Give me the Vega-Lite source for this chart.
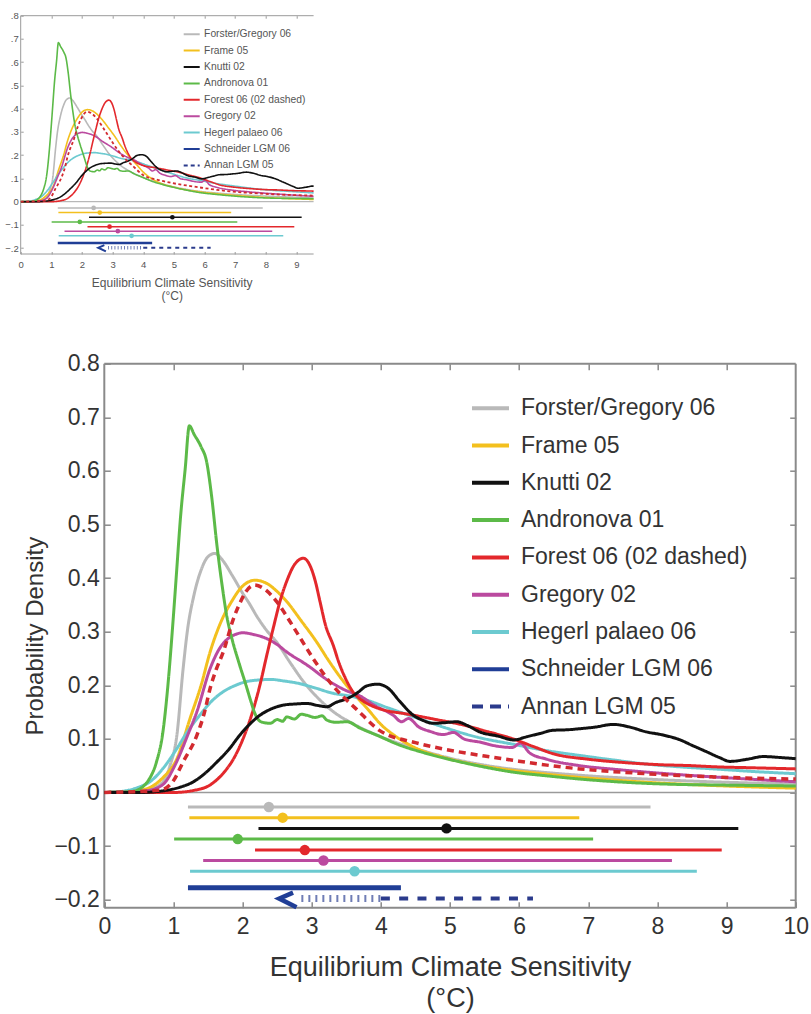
{
  "$schema": "https://vega.github.io/schema/vega-lite/v6.json",
  "autosize": {"type": "none"},
  "padding": {"left": 20.7, "top": 15.7, "right": 790.3, "bottom": 998.3},
  "background": "white",
  "config": {
    "font": "Liberation Sans",
    "view": {"stroke": null},
    "axis": {"grid": false, "labelFlush": false, "labelOverlap": false, "labelBound": false}
  },
  "resolve": {"scale": {"color": "independent", "strokeDash": "independent"}, "legend": {"color": "independent", "strokeDash": "independent"}},
  "datasets": {
    "curves": [
      {"s":"Forster/Gregory 06","x":0,"y":0},{"s":"Forster/Gregory 06","x":0.5,"y":0.002},{"s":"Forster/Gregory 06","x":0.7,"y":0.008},{"s":"Forster/Gregory 06","x":0.85,"y":0.02},{"s":"Forster/Gregory 06","x":0.95,"y":0.05},{"s":"Forster/Gregory 06","x":1.05,"y":0.107},{"s":"Forster/Gregory 06","x":1.14,"y":0.231},{"s":"Forster/Gregory 06","x":1.2,"y":0.3},{"s":"Forster/Gregory 06","x":1.3,"y":0.37},{"s":"Forster/Gregory 06","x":1.4,"y":0.415},{"s":"Forster/Gregory 06","x":1.5,"y":0.44},{"s":"Forster/Gregory 06","x":1.6,"y":0.446},{"s":"Forster/Gregory 06","x":1.7,"y":0.435},{"s":"Forster/Gregory 06","x":1.85,"y":0.405},{"s":"Forster/Gregory 06","x":2.0,"y":0.372},{"s":"Forster/Gregory 06","x":2.1,"y":0.352},{"s":"Forster/Gregory 06","x":2.2,"y":0.33},{"s":"Forster/Gregory 06","x":2.35,"y":0.302},{"s":"Forster/Gregory 06","x":2.49,"y":0.281},{"s":"Forster/Gregory 06","x":2.7,"y":0.24},{"s":"Forster/Gregory 06","x":2.88,"y":0.207},{"s":"Forster/Gregory 06","x":3.1,"y":0.175},{"s":"Forster/Gregory 06","x":3.31,"y":0.151},{"s":"Forster/Gregory 06","x":3.6,"y":0.128},{"s":"Forster/Gregory 06","x":4.0,"y":0.104},{"s":"Forster/Gregory 06","x":4.5,"y":0.082},{"s":"Forster/Gregory 06","x":5.0,"y":0.064},{"s":"Forster/Gregory 06","x":5.5,"y":0.051},{"s":"Forster/Gregory 06","x":6.0,"y":0.042},{"s":"Forster/Gregory 06","x":6.5,"y":0.036},{"s":"Forster/Gregory 06","x":7.0,"y":0.031},{"s":"Forster/Gregory 06","x":8.0,"y":0.024},{"s":"Forster/Gregory 06","x":9.0,"y":0.019},{"s":"Forster/Gregory 06","x":10,"y":0.016},
      {"s":"Frame 05","x":0,"y":0},{"s":"Frame 05","x":0.5,"y":0.004},{"s":"Frame 05","x":0.7,"y":0.012},{"s":"Frame 05","x":0.85,"y":0.028},{"s":"Frame 05","x":1.05,"y":0.063},{"s":"Frame 05","x":1.24,"y":0.138},{"s":"Frame 05","x":1.4,"y":0.2},{"s":"Frame 05","x":1.53,"y":0.262},{"s":"Frame 05","x":1.7,"y":0.322},{"s":"Frame 05","x":1.84,"y":0.356},{"s":"Frame 05","x":2.0,"y":0.385},{"s":"Frame 05","x":2.18,"y":0.396},{"s":"Frame 05","x":2.35,"y":0.39},{"s":"Frame 05","x":2.5,"y":0.375},{"s":"Frame 05","x":2.64,"y":0.356},{"s":"Frame 05","x":2.85,"y":0.32},{"s":"Frame 05","x":3.07,"y":0.281},{"s":"Frame 05","x":3.25,"y":0.245},{"s":"Frame 05","x":3.46,"y":0.207},{"s":"Frame 05","x":3.65,"y":0.178},{"s":"Frame 05","x":3.8,"y":0.157},{"s":"Frame 05","x":4.0,"y":0.127},{"s":"Frame 05","x":4.2,"y":0.106},{"s":"Frame 05","x":4.47,"y":0.085},{"s":"Frame 05","x":4.95,"y":0.064},{"s":"Frame 05","x":5.4,"y":0.051},{"s":"Frame 05","x":5.91,"y":0.041},{"s":"Frame 05","x":6.4,"y":0.034},{"s":"Frame 05","x":6.88,"y":0.028},{"s":"Frame 05","x":7.4,"y":0.023},{"s":"Frame 05","x":7.84,"y":0.019},{"s":"Frame 05","x":8.81,"y":0.013},{"s":"Frame 05","x":10,"y":0.008},
      {"s":"Hegerl palaeo 06","x":0,"y":0},{"s":"Hegerl palaeo 06","x":0.3,"y":0.003},{"s":"Hegerl palaeo 06","x":0.5,"y":0.01},{"s":"Hegerl palaeo 06","x":0.66,"y":0.02},{"s":"Hegerl palaeo 06","x":0.85,"y":0.045},{"s":"Hegerl palaeo 06","x":1.05,"y":0.082},{"s":"Hegerl palaeo 06","x":1.2,"y":0.113},{"s":"Hegerl palaeo 06","x":1.38,"y":0.144},{"s":"Hegerl palaeo 06","x":1.55,"y":0.17},{"s":"Hegerl palaeo 06","x":1.72,"y":0.188},{"s":"Hegerl palaeo 06","x":1.9,"y":0.2},{"s":"Hegerl palaeo 06","x":2.06,"y":0.207},{"s":"Hegerl palaeo 06","x":2.25,"y":0.21},{"s":"Hegerl palaeo 06","x":2.4,"y":0.211},{"s":"Hegerl palaeo 06","x":2.6,"y":0.208},{"s":"Hegerl palaeo 06","x":2.83,"y":0.203},{"s":"Hegerl palaeo 06","x":3.05,"y":0.195},{"s":"Hegerl palaeo 06","x":3.31,"y":0.185},{"s":"Hegerl palaeo 06","x":3.55,"y":0.18},{"s":"Hegerl palaeo 06","x":3.8,"y":0.172},{"s":"Hegerl palaeo 06","x":4.1,"y":0.158},{"s":"Hegerl palaeo 06","x":4.5,"y":0.14},{"s":"Hegerl palaeo 06","x":4.95,"y":0.12},{"s":"Hegerl palaeo 06","x":5.4,"y":0.103},{"s":"Hegerl palaeo 06","x":5.91,"y":0.09},{"s":"Hegerl palaeo 06","x":6.4,"y":0.078},{"s":"Hegerl palaeo 06","x":6.88,"y":0.069},{"s":"Hegerl palaeo 06","x":7.4,"y":0.06},{"s":"Hegerl palaeo 06","x":7.84,"y":0.053},{"s":"Hegerl palaeo 06","x":8.3,"y":0.048},{"s":"Hegerl palaeo 06","x":8.81,"y":0.044},{"s":"Hegerl palaeo 06","x":9.4,"y":0.039},{"s":"Hegerl palaeo 06","x":10,"y":0.035},
      {"s":"Gregory 02","x":0,"y":0},{"s":"Gregory 02","x":0.6,"y":0.003},{"s":"Gregory 02","x":0.85,"y":0.015},{"s":"Gregory 02","x":1.0,"y":0.045},{"s":"Gregory 02","x":1.09,"y":0.07},{"s":"Gregory 02","x":1.2,"y":0.105},{"s":"Gregory 02","x":1.34,"y":0.151},{"s":"Gregory 02","x":1.53,"y":0.231},{"s":"Gregory 02","x":1.65,"y":0.265},{"s":"Gregory 02","x":1.77,"y":0.285},{"s":"Gregory 02","x":1.9,"y":0.295},{"s":"Gregory 02","x":2.0,"y":0.298},{"s":"Gregory 02","x":2.15,"y":0.295},{"s":"Gregory 02","x":2.35,"y":0.287},{"s":"Gregory 02","x":2.5,"y":0.276},{"s":"Gregory 02","x":2.64,"y":0.262},{"s":"Gregory 02","x":2.93,"y":0.238},{"s":"Gregory 02","x":3.26,"y":0.207},{"s":"Gregory 02","x":3.5,"y":0.19},{"s":"Gregory 02","x":3.7,"y":0.18},{"s":"Gregory 02","x":3.9,"y":0.163},{"s":"Gregory 02","x":4.18,"y":0.144},{"s":"Gregory 02","x":4.3,"y":0.132},{"s":"Gregory 02","x":4.4,"y":0.138},{"s":"Gregory 02","x":4.55,"y":0.122},{"s":"Gregory 02","x":4.71,"y":0.114},{"s":"Gregory 02","x":4.9,"y":0.108},{"s":"Gregory 02","x":5.05,"y":0.112},{"s":"Gregory 02","x":5.2,"y":0.1},{"s":"Gregory 02","x":5.43,"y":0.094},{"s":"Gregory 02","x":5.7,"y":0.086},{"s":"Gregory 02","x":5.9,"y":0.084},{"s":"Gregory 02","x":6.02,"y":0.092},{"s":"Gregory 02","x":6.15,"y":0.074},{"s":"Gregory 02","x":6.4,"y":0.062},{"s":"Gregory 02","x":6.88,"y":0.05},{"s":"Gregory 02","x":7.4,"y":0.043},{"s":"Gregory 02","x":7.84,"y":0.038},{"s":"Gregory 02","x":8.81,"y":0.029},{"s":"Gregory 02","x":10,"y":0.02},
      {"s":"Forest 06 (02 dashed)","x":0,"y":0},{"s":"Forest 06 (02 dashed)","x":1.0,"y":0.0},{"s":"Forest 06 (02 dashed)","x":1.3,"y":0.004},{"s":"Forest 06 (02 dashed)","x":1.53,"y":0.014},{"s":"Forest 06 (02 dashed)","x":1.7,"y":0.033},{"s":"Forest 06 (02 dashed)","x":1.87,"y":0.063},{"s":"Forest 06 (02 dashed)","x":2.0,"y":0.098},{"s":"Forest 06 (02 dashed)","x":2.16,"y":0.157},{"s":"Forest 06 (02 dashed)","x":2.25,"y":0.2},{"s":"Forest 06 (02 dashed)","x":2.35,"y":0.256},{"s":"Forest 06 (02 dashed)","x":2.45,"y":0.31},{"s":"Forest 06 (02 dashed)","x":2.54,"y":0.356},{"s":"Forest 06 (02 dashed)","x":2.65,"y":0.398},{"s":"Forest 06 (02 dashed)","x":2.75,"y":0.425},{"s":"Forest 06 (02 dashed)","x":2.88,"y":0.437},{"s":"Forest 06 (02 dashed)","x":2.98,"y":0.422},{"s":"Forest 06 (02 dashed)","x":3.05,"y":0.395},{"s":"Forest 06 (02 dashed)","x":3.12,"y":0.356},{"s":"Forest 06 (02 dashed)","x":3.2,"y":0.312},{"s":"Forest 06 (02 dashed)","x":3.31,"y":0.275},{"s":"Forest 06 (02 dashed)","x":3.4,"y":0.24},{"s":"Forest 06 (02 dashed)","x":3.51,"y":0.207},{"s":"Forest 06 (02 dashed)","x":3.6,"y":0.187},{"s":"Forest 06 (02 dashed)","x":3.75,"y":0.17},{"s":"Forest 06 (02 dashed)","x":3.9,"y":0.16},{"s":"Forest 06 (02 dashed)","x":4.1,"y":0.152},{"s":"Forest 06 (02 dashed)","x":4.3,"y":0.148},{"s":"Forest 06 (02 dashed)","x":4.52,"y":0.143},{"s":"Forest 06 (02 dashed)","x":4.8,"y":0.136},{"s":"Forest 06 (02 dashed)","x":5.19,"y":0.126},{"s":"Forest 06 (02 dashed)","x":5.5,"y":0.115},{"s":"Forest 06 (02 dashed)","x":5.91,"y":0.1},{"s":"Forest 06 (02 dashed)","x":6.2,"y":0.086},{"s":"Forest 06 (02 dashed)","x":6.5,"y":0.072},{"s":"Forest 06 (02 dashed)","x":7.0,"y":0.062},{"s":"Forest 06 (02 dashed)","x":7.5,"y":0.056},{"s":"Forest 06 (02 dashed)","x":8.0,"y":0.052},{"s":"Forest 06 (02 dashed)","x":8.5,"y":0.05},{"s":"Forest 06 (02 dashed)","x":8.81,"y":0.048},{"s":"Forest 06 (02 dashed)","x":9.4,"y":0.046},{"s":"Forest 06 (02 dashed)","x":10,"y":0.044},
      {"s":"Forest 02","x":0,"y":0},{"s":"Forest 02","x":0.8,"y":0.004},{"s":"Forest 02","x":1.0,"y":0.022},{"s":"Forest 02","x":1.14,"y":0.057},{"s":"Forest 02","x":1.34,"y":0.107},{"s":"Forest 02","x":1.45,"y":0.15},{"s":"Forest 02","x":1.53,"y":0.194},{"s":"Forest 02","x":1.62,"y":0.23},{"s":"Forest 02","x":1.72,"y":0.262},{"s":"Forest 02","x":1.87,"y":0.325},{"s":"Forest 02","x":1.95,"y":0.35},{"s":"Forest 02","x":2.05,"y":0.375},{"s":"Forest 02","x":2.17,"y":0.387},{"s":"Forest 02","x":2.3,"y":0.381},{"s":"Forest 02","x":2.5,"y":0.355},{"s":"Forest 02","x":2.69,"y":0.318},{"s":"Forest 02","x":2.85,"y":0.285},{"s":"Forest 02","x":3.02,"y":0.25},{"s":"Forest 02","x":3.3,"y":0.2},{"s":"Forest 02","x":3.5,"y":0.173},{"s":"Forest 02","x":3.65,"y":0.155},{"s":"Forest 02","x":3.99,"y":0.115},{"s":"Forest 02","x":4.5,"y":0.093},{"s":"Forest 02","x":4.95,"y":0.08},{"s":"Forest 02","x":5.5,"y":0.068},{"s":"Forest 02","x":5.91,"y":0.06},{"s":"Forest 02","x":6.4,"y":0.051},{"s":"Forest 02","x":6.88,"y":0.044},{"s":"Forest 02","x":7.84,"y":0.035},{"s":"Forest 02","x":8.81,"y":0.029},{"s":"Forest 02","x":10,"y":0.025},
      {"s":"Andronova 01","x":0,"y":0},{"s":"Andronova 01","x":0.4,"y":0.002},{"s":"Andronova 01","x":0.55,"y":0.01},{"s":"Andronova 01","x":0.65,"y":0.025},{"s":"Andronova 01","x":0.75,"y":0.055},{"s":"Andronova 01","x":0.85,"y":0.115},{"s":"Andronova 01","x":0.92,"y":0.2},{"s":"Andronova 01","x":1.0,"y":0.33},{"s":"Andronova 01","x":1.05,"y":0.42},{"s":"Andronova 01","x":1.1,"y":0.51},{"s":"Andronova 01","x":1.17,"y":0.604},{"s":"Andronova 01","x":1.23,"y":0.684},{"s":"Andronova 01","x":1.3,"y":0.668},{"s":"Andronova 01","x":1.4,"y":0.645},{"s":"Andronova 01","x":1.48,"y":0.617},{"s":"Andronova 01","x":1.55,"y":0.555},{"s":"Andronova 01","x":1.63,"y":0.46},{"s":"Andronova 01","x":1.7,"y":0.39},{"s":"Andronova 01","x":1.77,"y":0.33},{"s":"Andronova 01","x":1.85,"y":0.285},{"s":"Andronova 01","x":1.94,"y":0.245},{"s":"Andronova 01","x":2.05,"y":0.2},{"s":"Andronova 01","x":2.12,"y":0.17},{"s":"Andronova 01","x":2.18,"y":0.147},{"s":"Andronova 01","x":2.25,"y":0.133},{"s":"Andronova 01","x":2.32,"y":0.13},{"s":"Andronova 01","x":2.4,"y":0.129},{"s":"Andronova 01","x":2.5,"y":0.136},{"s":"Andronova 01","x":2.58,"y":0.133},{"s":"Andronova 01","x":2.64,"y":0.141},{"s":"Andronova 01","x":2.75,"y":0.137},{"s":"Andronova 01","x":2.85,"y":0.146},{"s":"Andronova 01","x":2.93,"y":0.144},{"s":"Andronova 01","x":3.05,"y":0.14},{"s":"Andronova 01","x":3.15,"y":0.143},{"s":"Andronova 01","x":3.22,"y":0.135},{"s":"Andronova 01","x":3.35,"y":0.131},{"s":"Andronova 01","x":3.51,"y":0.132},{"s":"Andronova 01","x":3.7,"y":0.12},{"s":"Andronova 01","x":3.94,"y":0.107},{"s":"Andronova 01","x":4.28,"y":0.088},{"s":"Andronova 01","x":4.6,"y":0.075},{"s":"Andronova 01","x":4.95,"y":0.063},{"s":"Andronova 01","x":5.4,"y":0.05},{"s":"Andronova 01","x":5.91,"y":0.038},{"s":"Andronova 01","x":6.4,"y":0.031},{"s":"Andronova 01","x":6.88,"y":0.025},{"s":"Andronova 01","x":7.4,"y":0.02},{"s":"Andronova 01","x":7.84,"y":0.017},{"s":"Andronova 01","x":8.3,"y":0.015},{"s":"Andronova 01","x":8.81,"y":0.014},{"s":"Andronova 01","x":9.4,"y":0.013},{"s":"Andronova 01","x":10,"y":0.012},
      {"s":"Knutti 02","x":0,"y":0},{"s":"Knutti 02","x":0.5,"y":0.0},{"s":"Knutti 02","x":0.9,"y":0.004},{"s":"Knutti 02","x":1.1,"y":0.01},{"s":"Knutti 02","x":1.29,"y":0.02},{"s":"Knutti 02","x":1.45,"y":0.035},{"s":"Knutti 02","x":1.63,"y":0.057},{"s":"Knutti 02","x":1.8,"y":0.08},{"s":"Knutti 02","x":1.96,"y":0.107},{"s":"Knutti 02","x":2.1,"y":0.127},{"s":"Knutti 02","x":2.25,"y":0.144},{"s":"Knutti 02","x":2.4,"y":0.155},{"s":"Knutti 02","x":2.59,"y":0.163},{"s":"Knutti 02","x":2.75,"y":0.165},{"s":"Knutti 02","x":2.93,"y":0.166},{"s":"Knutti 02","x":3.1,"y":0.162},{"s":"Knutti 02","x":3.22,"y":0.16},{"s":"Knutti 02","x":3.35,"y":0.168},{"s":"Knutti 02","x":3.51,"y":0.175},{"s":"Knutti 02","x":3.65,"y":0.185},{"s":"Knutti 02","x":3.8,"y":0.199},{"s":"Knutti 02","x":3.95,"y":0.202},{"s":"Knutti 02","x":4.1,"y":0.195},{"s":"Knutti 02","x":4.28,"y":0.169},{"s":"Knutti 02","x":4.47,"y":0.144},{"s":"Knutti 02","x":4.6,"y":0.135},{"s":"Knutti 02","x":4.76,"y":0.129},{"s":"Knutti 02","x":4.9,"y":0.13},{"s":"Knutti 02","x":5.1,"y":0.132},{"s":"Knutti 02","x":5.25,"y":0.125},{"s":"Knutti 02","x":5.43,"y":0.113},{"s":"Knutti 02","x":5.7,"y":0.105},{"s":"Knutti 02","x":5.92,"y":0.098},{"s":"Knutti 02","x":6.11,"y":0.104},{"s":"Knutti 02","x":6.3,"y":0.11},{"s":"Knutti 02","x":6.49,"y":0.116},{"s":"Knutti 02","x":6.7,"y":0.117},{"s":"Knutti 02","x":6.88,"y":0.119},{"s":"Knutti 02","x":7.1,"y":0.122},{"s":"Knutti 02","x":7.36,"y":0.127},{"s":"Knutti 02","x":7.6,"y":0.122},{"s":"Knutti 02","x":7.84,"y":0.113},{"s":"Knutti 02","x":8.05,"y":0.108},{"s":"Knutti 02","x":8.33,"y":0.098},{"s":"Knutti 02","x":8.5,"y":0.088},{"s":"Knutti 02","x":8.71,"y":0.076},{"s":"Knutti 02","x":8.9,"y":0.065},{"s":"Knutti 02","x":9.05,"y":0.058},{"s":"Knutti 02","x":9.3,"y":0.062},{"s":"Knutti 02","x":9.53,"y":0.067},{"s":"Knutti 02","x":9.8,"y":0.065},{"s":"Knutti 02","x":10,"y":0.063}
    ],
    "bars": [
      {"s":"Forster/Gregory 06","lo":1.21,"hi":7.9,"mid":2.38,"yv":-0.027},
      {"s":"Frame 05","lo":1.23,"hi":6.87,"mid":2.58,"yv":-0.047},
      {"s":"Knutti 02","lo":2.23,"hi":9.17,"mid":4.95,"yv":-0.067},
      {"s":"Andronova 01","lo":1.01,"hi":7.07,"mid":1.93,"yv":-0.087},
      {"s":"Forest 06 (02 dashed)","lo":2.18,"hi":8.93,"mid":2.9,"yv":-0.1075},
      {"s":"Gregory 02","lo":1.43,"hi":8.21,"mid":3.17,"yv":-0.127},
      {"s":"Hegerl palaeo 06","lo":1.24,"hi":8.57,"mid":3.62,"yv":-0.147},
      {"s":"Schneider LGM 06","lo":1.21,"hi":4.29,"mid":null,"yv":-0.178}
    ],
    "annan": [
      {"part":"chev","i":0,"x":2.73,"y":-0.187},
      {"part":"chev","i":1,"x":2.53,"y":-0.198},
      {"part":"chev","i":2,"x":2.78,"y":-0.214},
      {"part":"dot","lo":2.85,"hi":4.0,"yv":-0.198},
      {"part":"dash","lo":4.0,"hi":6.2,"yv":-0.198}
    ],
    "frameB": [
      {"x1":0,"x2":0,"y1":-0.215,"y2":0.8},
      {"x1":10,"x2":10,"y1":-0.215,"y2":0.8},
      {"x1":0,"x2":10,"y1":0.8,"y2":0.8},
      {"x1":0,"x2":10,"y1":-0.215,"y2":-0.215}
    ],
    "zeroB": [{"x1":0,"x2":10,"y1":0,"y2":0}],
    "frameS": [
      {"x1":0,"x2":0,"y1":-0.225,"y2":0.8},
      {"x1":0,"x2":9.56,"y1":0.8,"y2":0.8},
      {"x1":0,"x2":9.56,"y1":-0.225,"y2":-0.225}
    ],
    "zeroS": [{"x1":0,"x2":9.56,"y1":0,"y2":0}]
  },
  "spacing": 51,
  "vconcat": [
    {
      "width": 292.9,
      "height": 238.3,
      "resolve": {"axis": {"x": "independent", "y": "independent"}},
      "layer": [
        {
          "data": {"name": "frameS"},
          "mark": {"type": "rule", "color": "#9a9a9a", "strokeWidth": 1},
          "encoding": {
            "x": {"field": "x1", "type": "quantitative", "scale": {"domain": [0, 9.56], "nice": false, "zero": false},
              "axis": {"orient": "bottom", "values": [0,1,2,3,4,5,6,7,8,9], "format": "d", "domain": false, "tickSize": -2.5, "tickColor": "#9a9a9a", "labelFontSize": 9.5, "labelColor": "#555555", "labelPadding": 7.7,
                "title": ["Equilibrium Climate Sensitivity", "(°C)"], "titleFontSize": 12, "titleFontWeight": "normal", "titleColor": "#555555", "titleX": 151, "titleY": 32, "titleAlign": "center", "titleBaseline": "alphabetic", "titleLineHeight": 13.5}},
            "x2": {"field": "x2"},
            "y": {"field": "y1", "type": "quantitative", "scale": {"domain": [-0.225, 0.8], "nice": false, "zero": false},
              "axis": {"orient": "left", "values": [-0.2,-0.1,0,0.1,0.2,0.3,0.4,0.5,0.6,0.7,0.8], "domain": false, "tickSize": -2.5, "tickColor": "#9a9a9a", "labelFontSize": 9.5, "labelColor": "#555555", "labelPadding": 4.9,
                "labelExpr": "datum.value == 0 ? '0' : replace(format(datum.value, '.1f'), '0.', '.')", "title": null}},
            "y2": {"field": "y2"}
          }
        },
        {
          "data": {"name": "zeroS"},
          "mark": {"type": "rule", "color": "#a8a8a8", "strokeWidth": 1},
          "encoding": {
            "x": {"field": "x1", "type": "quantitative", "axis": {"orient": "top", "values": [1,2,3,4,5,6,7,8,9], "labels": false, "domain": false, "tickSize": -2.5, "tickColor": "#9a9a9a", "title": null}},
            "x2": {"field": "x2"},
            "y": {"field": "y1", "type": "quantitative", "axis": null},
            "y2": {"field": "y2"}
          }
        },
        {
          "data": {"name": "curves"},
          "transform": [{"filter": "datum.s != 'Forest 02'"}],
          "mark": {"type": "line", "strokeWidth": 1.6, "interpolate": "monotone", "clip": true},
          "encoding": {
            "x": {"field": "x", "type": "quantitative", "axis": null},
            "y": {"field": "y", "type": "quantitative", "axis": null},
            "color": {"field": "s", "type": "nominal",
              "scale": {"domain": ["Forster/Gregory 06","Frame 05","Knutti 02","Andronova 01","Forest 06 (02 dashed)","Gregory 02","Hegerl palaeo 06","Schneider LGM 06","Annan LGM 05"],
                "range": ["#b9b9b9","#f3c01e","#111111","#5cba48","#e3282c","#bb4a9f","#6ccad0","#203e96","#2b3b8c"]},
              "legend": {"title": null, "orient": "none", "legendX": 162, "legendY": 9.5, "symbolType": "stroke", "symbolSize": 256, "symbolStrokeWidth": 2, "labelFontSize": 10.3, "labelColor": "#555555", "labelOffset": 3.4, "rowPadding": 1.4, "padding": 0, "labelLimit": 400}},
            "strokeDash": {"field": "s", "type": "nominal",
              "scale": {"domain": ["Forster/Gregory 06","Frame 05","Knutti 02","Andronova 01","Forest 06 (02 dashed)","Gregory 02","Hegerl palaeo 06","Schneider LGM 06","Annan LGM 05"],
                "range": [[1,0],[1,0],[1,0],[1,0],[1,0],[1,0],[1,0],[1,0],[4,3]]},
              "legend": {"title": null, "orient": "none", "legendX": 162, "legendY": 9.5, "symbolType": "stroke", "symbolSize": 256, "symbolStrokeWidth": 2, "labelFontSize": 10.3, "labelColor": "#555555", "labelOffset": 3.4, "rowPadding": 1.4, "padding": 0, "labelLimit": 400}}
          }
        },
        {
          "data": {"name": "curves"},
          "transform": [{"filter": "datum.s == 'Forest 02'"}],
          "mark": {"type": "line", "strokeWidth": 1.8, "interpolate": "monotone", "clip": true, "color": "#d22a2f", "strokeDash": [3, 2.5]},
          "encoding": {
            "x": {"field": "x", "type": "quantitative", "axis": null},
            "y": {"field": "y", "type": "quantitative", "axis": null}
          }
        },
        {
          "data": {"name": "bars"},
          "transform": [{"filter": "datum.s != 'Schneider LGM 06'"}],
          "mark": {"type": "rule", "strokeWidth": 1.5},
          "encoding": {
            "x": {"field": "lo", "type": "quantitative", "axis": null},
            "x2": {"field": "hi"},
            "y": {"field": "yv", "type": "quantitative", "axis": null},
            "color": {"field": "s", "type": "nominal"}
          }
        },
        {
          "data": {"name": "bars"},
          "transform": [{"filter": "datum.s == 'Schneider LGM 06'"}],
          "mark": {"type": "rule", "strokeWidth": 2.5},
          "encoding": {
            "x": {"field": "lo", "type": "quantitative", "axis": null},
            "x2": {"field": "hi"},
            "y": {"field": "yv", "type": "quantitative", "axis": null},
            "color": {"field": "s", "type": "nominal"}
          }
        },
        {
          "data": {"name": "bars"},
          "transform": [{"filter": "datum.mid != null"}],
          "mark": {"type": "circle", "size": 22, "opacity": 1},
          "encoding": {
            "x": {"field": "mid", "type": "quantitative", "axis": null},
            "y": {"field": "yv", "type": "quantitative", "axis": null},
            "color": {"field": "s", "type": "nominal"}
          }
        },
        {
          "data": {"name": "annan"},
          "transform": [{"filter": "datum.part == 'chev'"}],
          "mark": {"type": "line", "strokeWidth": 2, "color": "#203e96"},
          "encoding": {
            "x": {"field": "x", "type": "quantitative", "axis": null},
            "y": {"field": "y", "type": "quantitative", "axis": null},
            "order": {"field": "i", "type": "quantitative"}
          }
        },
        {
          "data": {"name": "annan"},
          "transform": [{"filter": "datum.part == 'dot'"}],
          "mark": {"type": "rule", "strokeWidth": 3.5, "color": "#6f7db5", "strokeDash": [1, 2.2]},
          "encoding": {
            "x": {"field": "lo", "type": "quantitative", "axis": null},
            "x2": {"field": "hi"},
            "y": {"field": "yv", "type": "quantitative", "axis": null}
          }
        },
        {
          "data": {"name": "annan"},
          "transform": [{"filter": "datum.part == 'dash'"}],
          "mark": {"type": "rule", "strokeWidth": 2, "color": "#2b3b8c", "strokeDash": [4, 4]},
          "encoding": {
            "x": {"field": "lo", "type": "quantitative", "axis": null},
            "x2": {"field": "hi"},
            "y": {"field": "yv", "type": "quantitative", "axis": null}
          }
        }
      ]
    },
    {
      "width": 775,
      "height": 544,
      "resolve": {"axis": {"x": "independent", "y": "independent"}},
      "layer": [
        {
          "data": {"name": "frameB"},
          "mark": {"type": "rule", "color": "#8a8a8a", "strokeWidth": 2},
          "encoding": {
            "x": {"field": "x1", "type": "quantitative", "scale": {"domain": [-1.2092, 10], "nice": false, "zero": false},
              "axis": {"orient": "bottom", "values": [0,1,2,3,4,5,6,7,8,9,10], "format": "d", "domain": false, "tickSize": -6, "tickWidth": 1.5, "tickColor": "#8a8a8a", "labelFontSize": 23, "labelColor": "#333333", "labelPadding": 13.6,
                "title": ["Equilibrium Climate Sensitivity", "(°C)"], "titleFontSize": 27, "titleFontWeight": "normal", "titleColor": "#333333", "titleX": 429.3, "titleY": 68, "titleAlign": "center", "titleBaseline": "alphabetic", "titleLineHeight": 31}},
            "x2": {"field": "x2"},
            "y": {"field": "y1", "type": "quantitative", "scale": {"domain": [-0.215, 0.8], "nice": false, "zero": false},
              "axis": {"orient": "left", "offset": -83.6, "values": [-0.2,-0.1,0,0.1,0.2,0.3,0.4,0.5,0.6,0.7,0.8], "domain": false, "tickSize": -6, "tickWidth": 1.5, "tickColor": "#8a8a8a", "labelFontSize": 23, "labelColor": "#333333", "labelPadding": 11,
                "labelExpr": "datum.value == 0 ? '0' : format(datum.value, '.1f')",
                "title": "Probability Density", "titleFontSize": 24, "titleFontWeight": "normal", "titleColor": "#333333", "titlePadding": 6}},
            "y2": {"field": "y2"}
          }
        },
        {
          "data": {"name": "zeroB"},
          "mark": {"type": "rule", "color": "#9a9a9a", "strokeWidth": 1.5},
          "encoding": {
            "x": {"field": "x1", "type": "quantitative", "axis": {"orient": "top", "values": [1,2,3,4,5,6,7,8,9], "labels": false, "domain": false, "tickSize": -6, "tickWidth": 1.5, "tickColor": "#8a8a8a", "title": null}},
            "x2": {"field": "x2"},
            "y": {"field": "y1", "type": "quantitative", "axis": {"orient": "right", "values": [-0.2,-0.1,0,0.1,0.2,0.3,0.4,0.5,0.6,0.7], "labels": false, "domain": false, "tickSize": -6, "tickWidth": 1.5, "tickColor": "#8a8a8a", "title": null}},
            "y2": {"field": "y2"}
          }
        },
        {
          "data": {"name": "curves"},
          "transform": [{"filter": "datum.s != 'Forest 02'"}],
          "mark": {"type": "line", "strokeWidth": 3, "interpolate": "monotone"},
          "encoding": {
            "x": {"field": "x", "type": "quantitative", "axis": null},
            "y": {"field": "y", "type": "quantitative", "axis": null},
            "color": {"field": "s", "type": "nominal",
              "scale": {"domain": ["Forster/Gregory 06","Frame 05","Knutti 02","Andronova 01","Forest 06 (02 dashed)","Gregory 02","Hegerl palaeo 06","Schneider LGM 06","Annan LGM 05"],
                "range": ["#b9b9b9","#f3c01e","#111111","#5cba48","#e3282c","#bb4a9f","#6ccad0","#203e96","#2b3b8c"]},
              "legend": {"title": null, "orient": "none", "legendX": 449.3, "legendY": 24, "symbolType": "stroke", "symbolSize": 1369, "symbolStrokeWidth": 4, "labelFontSize": 23, "labelColor": "#333333", "labelOffset": 10, "rowPadding": 4.3, "padding": 0, "labelLimit": 400}},
            "strokeDash": {"field": "s", "type": "nominal",
              "scale": {"domain": ["Forster/Gregory 06","Frame 05","Knutti 02","Andronova 01","Forest 06 (02 dashed)","Gregory 02","Hegerl palaeo 06","Schneider LGM 06","Annan LGM 05"],
                "range": [[1,0],[1,0],[1,0],[1,0],[1,0],[1,0],[1,0],[1,0],[11,7]]},
              "legend": {"title": null, "orient": "none", "legendX": 449.3, "legendY": 24, "symbolType": "stroke", "symbolSize": 1369, "symbolStrokeWidth": 4, "labelFontSize": 23, "labelColor": "#333333", "labelOffset": 10, "rowPadding": 4.3, "padding": 0, "labelLimit": 400}}
          }
        },
        {
          "data": {"name": "curves"},
          "transform": [{"filter": "datum.s == 'Forest 02'"}],
          "mark": {"type": "line", "strokeWidth": 3.5, "interpolate": "monotone", "color": "#d22a2f", "strokeDash": [7, 5]},
          "encoding": {
            "x": {"field": "x", "type": "quantitative", "axis": null},
            "y": {"field": "y", "type": "quantitative", "axis": null}
          }
        },
        {
          "data": {"name": "bars"},
          "transform": [{"filter": "datum.s != 'Schneider LGM 06'"}],
          "mark": {"type": "rule", "strokeWidth": 3},
          "encoding": {
            "x": {"field": "lo", "type": "quantitative", "axis": null},
            "x2": {"field": "hi"},
            "y": {"field": "yv", "type": "quantitative", "axis": null},
            "color": {"field": "s", "type": "nominal"}
          }
        },
        {
          "data": {"name": "bars"},
          "transform": [{"filter": "datum.s == 'Schneider LGM 06'"}],
          "mark": {"type": "rule", "strokeWidth": 5},
          "encoding": {
            "x": {"field": "lo", "type": "quantitative", "axis": null},
            "x2": {"field": "hi"},
            "y": {"field": "yv", "type": "quantitative", "axis": null},
            "color": {"field": "s", "type": "nominal"}
          }
        },
        {
          "data": {"name": "bars"},
          "transform": [{"filter": "datum.mid != null"}],
          "mark": {"type": "circle", "size": 110, "opacity": 1},
          "encoding": {
            "x": {"field": "mid", "type": "quantitative", "axis": null},
            "y": {"field": "yv", "type": "quantitative", "axis": null},
            "color": {"field": "s", "type": "nominal"}
          }
        },
        {
          "data": {"name": "annan"},
          "transform": [{"filter": "datum.part == 'chev'"}],
          "mark": {"type": "line", "strokeWidth": 4.5, "color": "#203e96"},
          "encoding": {
            "x": {"field": "x", "type": "quantitative", "axis": null},
            "y": {"field": "y", "type": "quantitative", "axis": null},
            "order": {"field": "i", "type": "quantitative"}
          }
        },
        {
          "data": {"name": "annan"},
          "transform": [{"filter": "datum.part == 'dot'"}],
          "mark": {"type": "rule", "strokeWidth": 7, "color": "#6f7db5", "strokeDash": [2, 5]},
          "encoding": {
            "x": {"field": "lo", "type": "quantitative", "axis": null},
            "x2": {"field": "hi"},
            "y": {"field": "yv", "type": "quantitative", "axis": null}
          }
        },
        {
          "data": {"name": "annan"},
          "transform": [{"filter": "datum.part == 'dash'"}],
          "mark": {"type": "rule", "strokeWidth": 4, "color": "#2b3b8c", "strokeDash": [9, 9.3]},
          "encoding": {
            "x": {"field": "lo", "type": "quantitative", "axis": null},
            "x2": {"field": "hi"},
            "y": {"field": "yv", "type": "quantitative", "axis": null}
          }
        }
      ]
    }
  ]
}
